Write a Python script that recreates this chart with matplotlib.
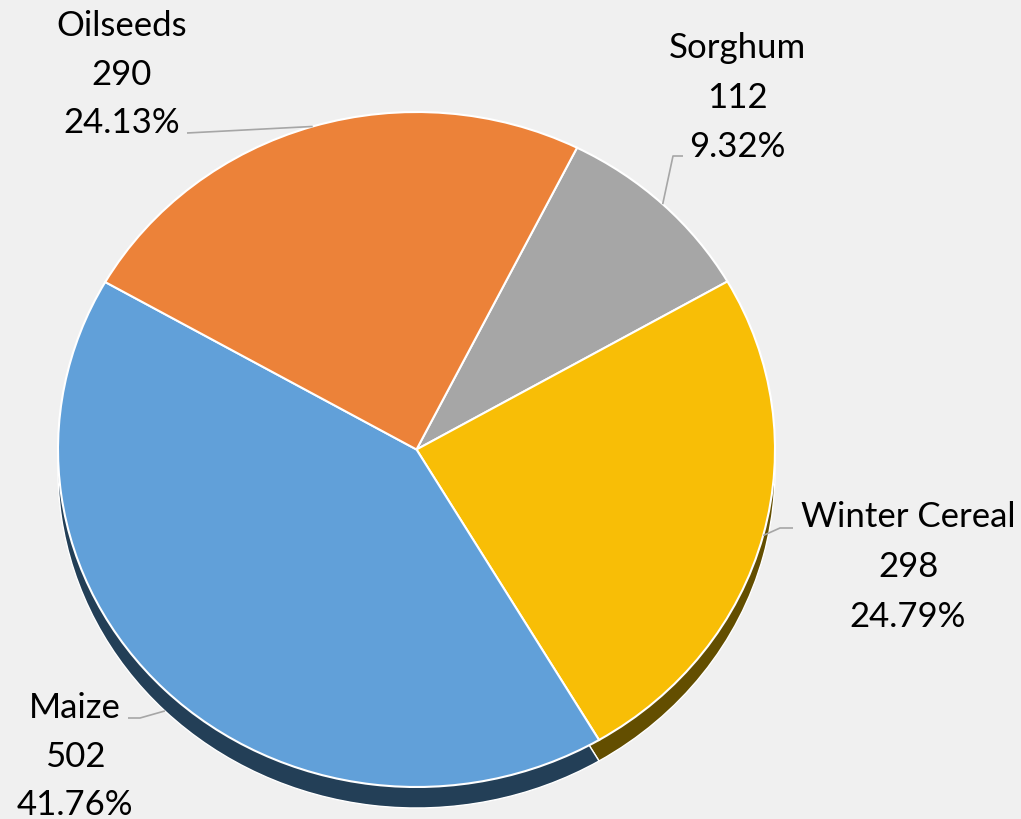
import numpy as np
import matplotlib.pyplot as plt

crops = ['Sorghum', 'Winter Cereal', 'Maize', 'Oilseeds']
area = [112, 298, 502, 290]

top_colors = ['#A6A6A6', '#F8BE06', '#61A0D9', '#EC8239']
side_colors = ['#555555', '#634E00', '#233F57', '#7A3E14']

# ellipse of the pie top face in pixels (centre, radii), and depth of the 3-D side
cx, cy, rx, ry = 416.5, 449.5, 358.5, 337.5
W, H = 1021, 819
depth = 21 / ry


def px(x, y):
    return (x - cx) / rx, (cy - y) / ry


# label layout: centre x, baselines of the three lines, leader elbow points (pixels)
label_x = [737, 908, 75, 122]
label_base = [[58, 108, 157], [527, 577, 627], [718, 767, 815], [36, 85, 133]]
leader_pts = [[(683, 156), (673, 156)],
              [(793, 528), (780, 528)],
              [(128, 718), (140, 718)],
              [(187, 133)]]
on_side = [False, False, True, False]

fig = plt.figure(figsize=(W / 100, H / 100), dpi=100, facecolor='#F0F0F0')
ax = fig.add_axes([0, 0, 1, 1])
ax.set_facecolor('#F0F0F0')

start = 90 - 26.6
ax.pie(area, colors=side_colors, startangle=start, counterclock=False,
       center=(0, -depth), wedgeprops=dict(edgecolor='white', linewidth=1.0))
wedges, _ = ax.pie(area, colors=top_colors, startangle=start, counterclock=False,
                   wedgeprops=dict(edgecolor='white', linewidth=1.5))

ax.set_aspect('auto')
ax.set_xlim(-cx / rx, (W - cx) / rx)
ax.set_ylim(-(H - cy) / ry, cy / ry)
ax.axis('off')

total = sum(area)
font = dict(family=['Lato', 'DejaVu Sans'], fontsize=25, color='black',
            ha='center', va='baseline')
for i, w in enumerate(wedges):
    lines = [crops[i], str(area[i]), f'{area[i] / total * 100:.2f}%']
    for txt, b in zip(lines, label_base[i]):
        x, y = px(label_x[i], b)
        ax.text(x, y, txt, **font)

    mid = np.deg2rad((w.theta1 + w.theta2) / 2)
    ex, ey = np.cos(mid), np.sin(mid) - (depth if on_side[i] else 0)
    pts = [px(*p) for p in leader_pts[i]] + [(ex, ey)]
    xs, ys = zip(*pts)
    ax.plot(xs, ys, color='#A6A6A6', lw=1.2, solid_capstyle='butt')

fig.savefig('out.png', dpi=100, facecolor=fig.get_facecolor())
